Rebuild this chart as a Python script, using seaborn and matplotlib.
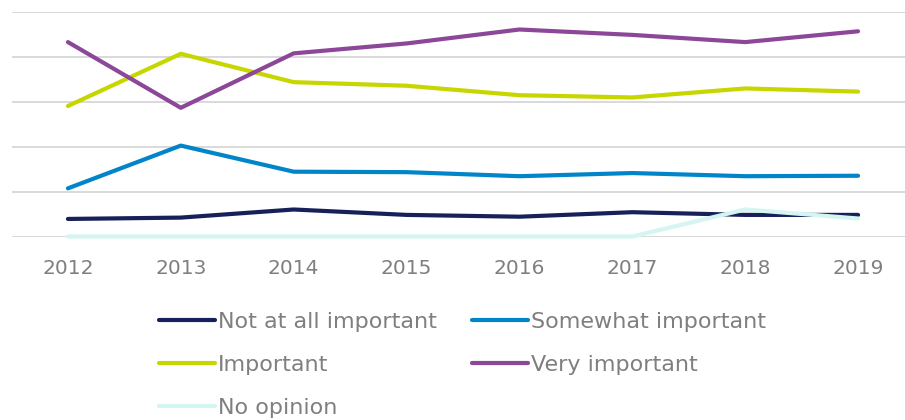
import matplotlib
matplotlib.use("Agg")
import matplotlib.pyplot as plt
import seaborn as sns
import pandas as pd

# Survey responses by year (share of respondents, %)
years = [2012, 2013, 2014, 2015, 2016, 2017, 2018, 2019]
not_at_all = [3.9, 4.2, 6.0, 4.8, 4.4, 5.4, 4.8, 4.8]
somewhat = [10.7, 20.2, 14.4, 14.3, 13.4, 14.1, 13.4, 13.5]
important = [29.0, 40.6, 34.3, 33.5, 31.4, 30.9, 32.9, 32.2]
very = [43.2, 28.6, 40.7, 42.9, 46.0, 44.8, 43.2, 45.6]
no_opinion = [0.0, 0.0, 0.0, 0.0, 0.0, 0.0, 6.0, 4.0]

series = {
    "Not at all important": not_at_all,
    "Somewhat important": somewhat,
    "Important": important,
    "Very important": very,
    "No opinion": no_opinion,
}
palette = {
    "Not at all important": "#18205a",
    "Somewhat important": "#0085c8",
    "Important": "#c8d600",
    "Very important": "#8c4799",
    "No opinion": "#d4f5f1",
}

df = pd.DataFrame(
    [(y, name, v) for name, vals in series.items() for y, v in zip(years, vals)],
    columns=["year", "response", "value"],
)

sns.set_theme(style="white")
plt.rcParams["font.family"] = ["DejaVu Sans"]

W, H = 905, 420
fig = plt.figure(figsize=(W / 100, H / 100), dpi=100)
ax = fig.add_axes([11.5 / W, 1 - 236.5 / H, (914.5 - 11.5) / W, 225 / H])

sns.lineplot(
    data=df, x="year", y="value", hue="response",
    hue_order=list(series.keys()), palette=palette,
    linewidth=3.0, legend=False, ax=ax, sort=False,
)
for ln in ax.lines:
    ln.set_solid_capstyle("round")
    ln.set_solid_joinstyle("round")
    ln.set_clip_on(False)

ax.set_xlim(2011.5, 2019.5)
ax.set_ylim(0, 50)
ax.set_yticks([0, 10, 20, 30, 40, 50])
ax.set_yticklabels([])
ax.set_xticks(years)
ax.set_xticklabels([str(y) for y in years])
ax.tick_params(axis="x", length=0, pad=16, labelsize=14.5, labelcolor="#7f7f7f")
ax.tick_params(axis="y", length=0)
ax.grid(axis="y", color="#d9d9d9", linewidth=1.4)
ax.set_axisbelow(True)
for s in ax.spines.values():
    s.set_visible(False)
ax.set_xlabel("")
ax.set_ylabel("")

# Legend laid out row by row: two columns
lines = {name: ln for name, ln in zip(series.keys(), ax.lines)}
order = ["Not at all important", "Important", "No opinion",
         "Somewhat important", "Very important"]
fig.legend(
    [lines[n] for n in order], order,
    loc="upper left", bbox_to_anchor=(159 / W, 1 - 312 / H),
    ncol=2, frameon=False, fontsize=16, labelcolor="#7f7f7f",
    handlelength=2.5, handletextpad=0.15, columnspacing=1.6,
    labelspacing=1.04, borderpad=0, borderaxespad=0,
)

fig.savefig("out.png", dpi=100)
